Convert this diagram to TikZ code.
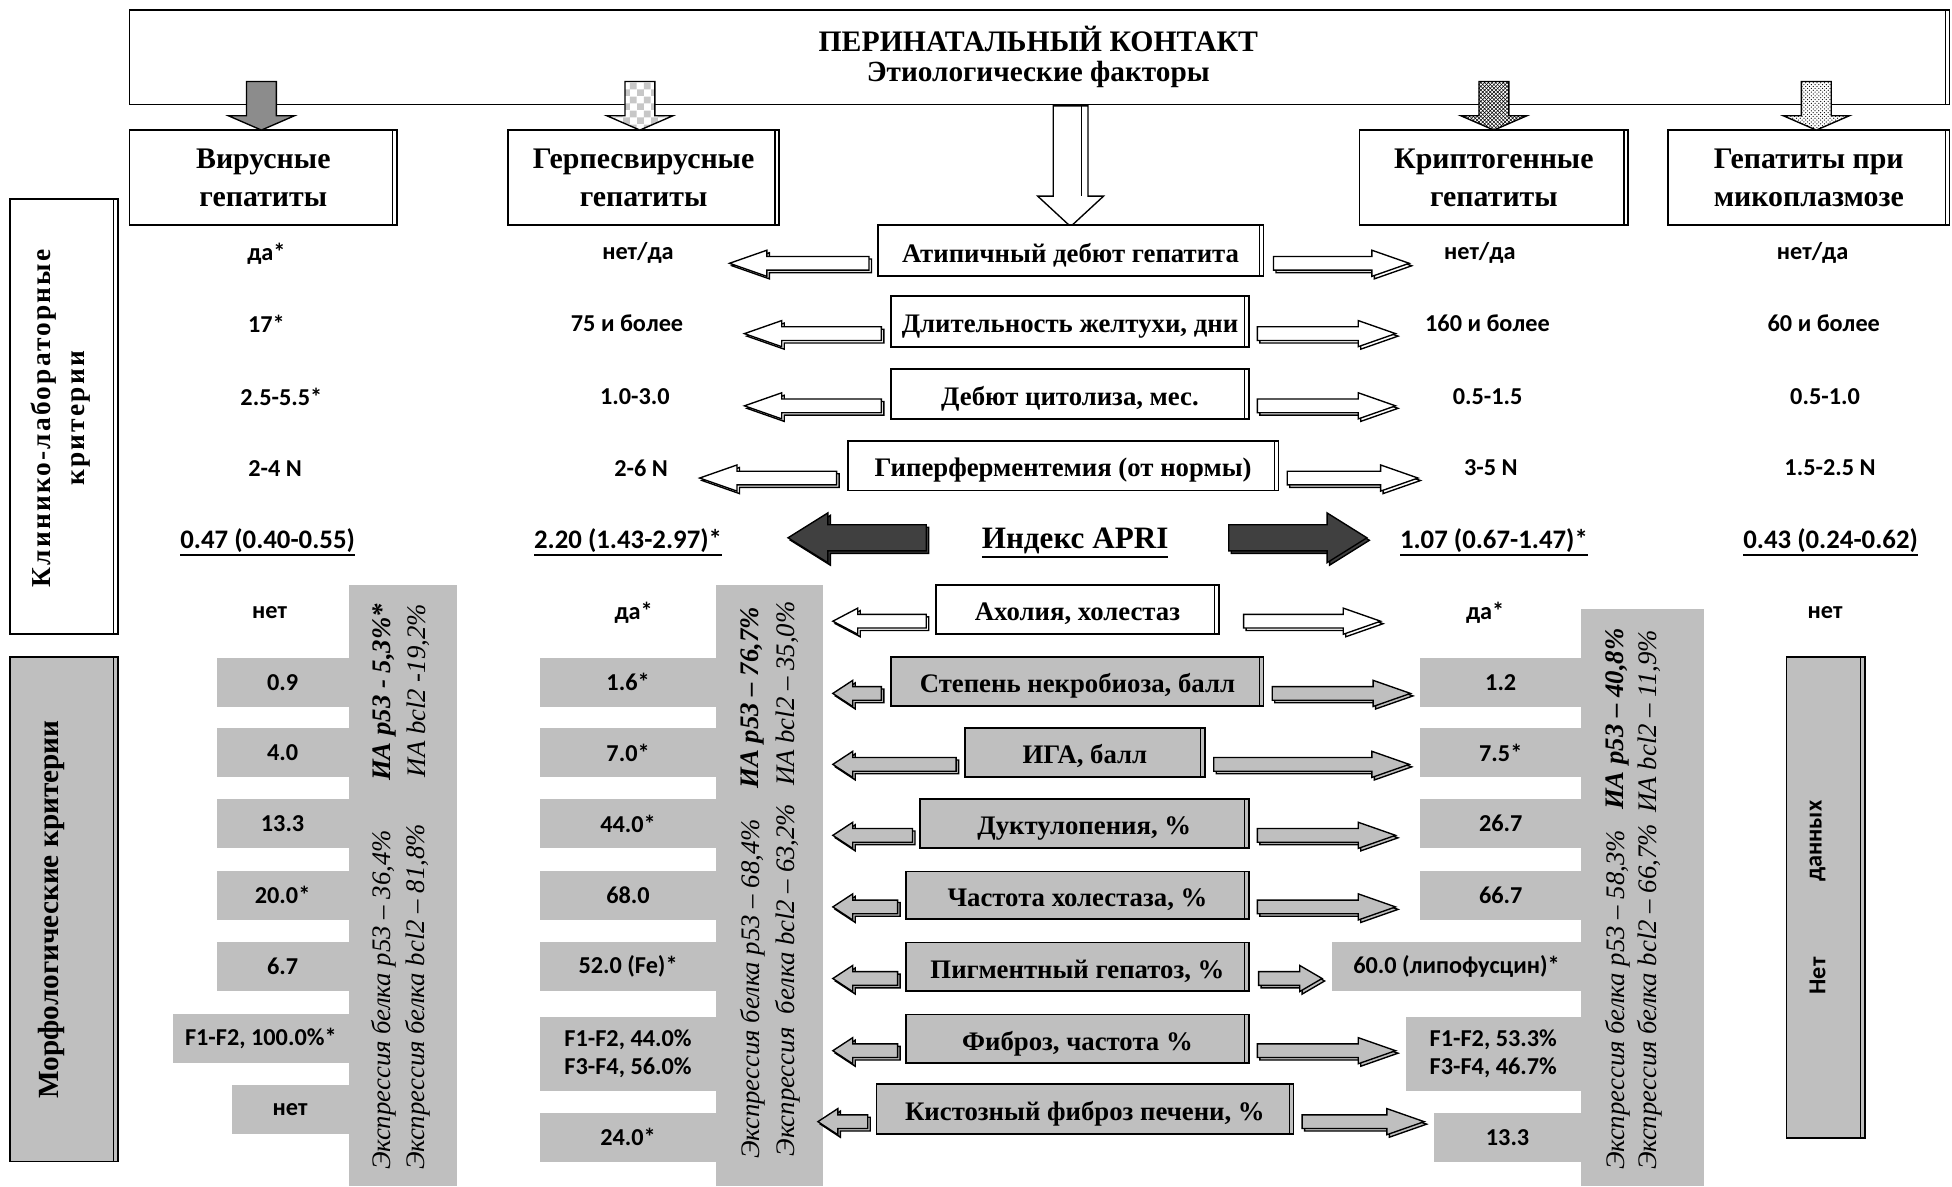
\documentclass[tikz,border=0pt]{standalone}
\usepackage{fontspec}
\setmainfont{Liberation Serif}
\newfontfamily\calfont{Carlito}
\newfontfamily\widefont[LetterSpace=8]{Liberation Serif}
\usetikzlibrary{patterns}

% thick underline
\newcommand\ulbar[1]{\leavevmode\vtop{\hbox{#1}\kern1.2pt\hrule height 1.6pt}}
% block arrow: style, tail x, tip x, y, head length, shaft half, head half
\newcommand\blockarr[7]{%
  \draw[#1,shift={(2,2)}] (#2,{#4-#6}) -- ({#3-(#5)},{#4-#6}) -- ({#3-(#5)},{#4-#7}) -- (#3,#4)
    -- ({#3-(#5)},{#4+#7}) -- ({#3-(#5)},{#4+#6}) -- (#2,{#4+#6}) -- cycle;
  \draw[#1] (#2,{#4-#6}) -- ({#3-(#5)},{#4-#6}) -- ({#3-(#5)},{#4-#7}) -- (#3,#4)
    -- ({#3-(#5)},{#4+#7}) -- ({#3-(#5)},{#4+#6}) -- (#2,{#4+#6}) -- cycle;}

\begin{document}
\begin{tikzpicture}[x=1pt,y=-1pt,
  box/.style={draw, line width=1.4pt, fill=white, inner sep=0pt,
    path picture={\draw[line width=0.9pt] ([xshift=-3.5pt]path picture bounding box.north east)
      -- ([xshift=-3.5pt]path picture bounding box.south east);}},
  gbox/.style={box, fill=black!25},
  lbl/.style={font=\bfseries\fontsize{21.5}{24}\selectfont, text height=18.2pt, text depth=0pt},
  cat/.style={font=\bfseries\fontsize{24}{31}\selectfont, align=center},
  num/.style={font=\calfont\bfseries\fontsize{19.5}{23}\selectfont, inner sep=0pt, align=center},
  apv/.style={num, font=\calfont\bfseries\fontsize{21.5}{25}\selectfont},
  cell/.style={num, fill=black!25},
  rot/.style={rotate=90, inner sep=0pt, font=\itshape\fontsize{21.5}{24}\selectfont},
  warr/.style={draw, line width=1.1pt, fill=white},
  garr/.style={warr, fill=black!25},
  barr/.style={warr, fill=black!75},
  darr/.style={draw, line width=1.1pt}]
\useasboundingbox (0,0) rectangle (1568,953);

% top
\node[box, minimum width=1462pt, minimum height=76pt] (top) at (835,46) {};
\node[font=\bfseries\fontsize{23.9}{27}\selectfont] (ttl) at (834,31) {ПЕРИНАТАЛЬНЫЙ КОНТАКТ};
\node[font=\bfseries\fontsize{23.5}{27}\selectfont] (sub) at (834,60) {Этиологические факторы};

% etiology
\node[box, cat, minimum width=215pt, minimum height=76.5pt] (vir) at (211.5,142.75) {Вирусные\\гепатиты};
\node[box, cat, minimum width=218pt, minimum height=76.5pt] (herp) at (517,142.75) {Герпесвирусные\\гепатиты};
\node[box, cat, minimum width=216pt, minimum height=76.5pt] (crypt) at (1200,142.75) {Криптогенные\\гепатиты};
\node[box, cat, minimum width=226pt, minimum height=76.5pt] (myco) at (1453,142.75) {Гепатиты при\\микоплазмозе};

\draw[darr, fill=black!45] (198,65.5) -- (222,65.5) -- (222,93) -- (236.5,93) -- (210,104.5) -- (183.5,93) -- (198,93) -- cycle;
\draw[darr, preaction={fill=white}, pattern=checkerboard, pattern color=black!22] (502,65.5) -- (526,65.5) -- (526,93) -- (540.5,93) -- (514,104.5) -- (487.5,93) -- (502,93) -- cycle;
\draw[darr, preaction={fill=white}, pattern=crosshatch] (1188,65.5) -- (1212,65.5) -- (1212,93) -- (1226.5,93) -- (1200,104.5) -- (1173.5,93) -- (1188,93) -- cycle;
\draw[darr, preaction={fill=white}, pattern=crosshatch dots] (1447,65.5) -- (1471,65.5) -- (1471,93) -- (1485.5,93) -- (1459,104.5) -- (1432.5,93) -- (1447,93) -- cycle;
\draw[darr, fill=white] (846,85) -- (874,85) -- (874,157.5) -- (886.5,157.5) -- (860,182) -- (833.5,157.5) -- (846,157.5) -- cycle;
\draw[line width=0.9pt] (869,85) -- (869,157.5);

% side labels
\node[box, minimum width=87pt, minimum height=349pt] (clinbox) at (51.5,334.5) {};
\node[rotate=90, align=center, font=\widefont\bfseries\fontsize{22}{27}\selectfont] (clin) at (48.5,336) {Клинико-лабораторные\\критерии};
\node[gbox, minimum width=87pt, minimum height=405pt] (morphbox) at (51.5,730.5) {};
\node[rotate=90, font=\bfseries\fontsize{23.5}{27}\selectfont] (morph) at (41,730.5) {Морфологические критерии};

% clinical rows
\node[box, lbl, minimum width=310pt, minimum height=41pt] (r1) at (860,201.5) {Атипичный дебют гепатита};
\node[box, lbl, minimum width=287pt, minimum height=40.5pt] (r2) at (859.5,258.3) {Длительность желтухи, дни};
\node[box, lbl, minimum width=287pt, minimum height=40pt] (r3) at (859.5,316.6) {Дебют цитолиза, мес.};
\node[box, lbl, minimum width=346pt, minimum height=40pt] (r4) at (854,374) {Гиперферментемия (от нормы)};
\node[font=\bfseries\fontsize{25}{28}\selectfont] (apri) at (863.6,436) {\ulbar{Индекс APRI}};
\node[box, lbl, minimum width=227pt, minimum height=39pt] (r6) at (865.5,489.5) {Ахолия, холестаз};

\blockarr{warr}{698}{586}{211.5}{-30}{5.5}{10.5}
\blockarr{warr}{1023}{1132}{211.5}{30}{5.5}{10.5}
\blockarr{warr}{708}{598}{268}{-30}{5.5}{10.5}
\blockarr{warr}{1010}{1121}{268}{30}{5.5}{10.5}
\blockarr{warr}{708}{598}{326}{-30}{5.5}{10.5}
\blockarr{warr}{1010}{1121}{326}{30}{5.5}{10.5}
\blockarr{warr}{672}{562}{384}{-30}{5.5}{10.5}
\blockarr{warr}{1034}{1139}{384}{30}{5.5}{10.5}
\blockarr{barr}{744}{633}{432}{-32}{10.5}{20}
\blockarr{barr}{987}{1098}{432}{32}{10.5}{20}
\blockarr{warr}{744}{669}{499}{-20}{5.5}{10.5}
\blockarr{warr}{999}{1109}{499}{30}{5.5}{10.5}

\node[num] (a1) at (214,203.5) {да*};
\node[num] (b1) at (512.5,203.5) {нет/да};
\node[num] (c1) at (1188.7,203.5) {нет/да};
\node[num] (d1) at (1456,203.5) {нет/да};
\node[num] (a2) at (214,260) {17*};
\node[num] (b2) at (503.7,260) {75 и более};
\node[num] (c2) at (1194.8,260) {160 и более};
\node[num] (d2) at (1465,260) {60 и более};
\node[num] (a3) at (226,318.5) {2.5-5.5*};
\node[num] (b3) at (510,318.5) {1.0-3.0};
\node[num] (c3) at (1195,318.5) {0.5-1.5};
\node[num] (d3) at (1466,318.5) {0.5-1.0};
\node[num] (a4) at (221,376) {2-4 N};
\node[num] (b4) at (515,376) {2-6 N};
\node[num] (c4) at (1197.6,376) {3-5 N};
\node[num] (d4) at (1470,376) {1.5-2.5 N};
\node[apv] (a5) at (215,436) {\ulbar{0.47 (0.40-0.55)}};
\node[apv] (b5) at (504.5,436) {\ulbar{2.20 (1.43-2.97)*}};
\node[apv] (c5) at (1200,436) {\ulbar{1.07 (0.67-1.47)*}};
\node[apv] (d5) at (1470.5,436) {\ulbar{0.43 (0.24-0.62)}};
\node[num] (a6) at (216.6,492) {нет};
\node[num] (b6) at (509,492) {да*};
\node[num] (c6) at (1193,492) {да*};
\node[num] (d6) at (1466,492) {нет};

% morphology
\fill[black!25] (280,470) rectangle (367,953);
\fill[black!25] (575,470) rectangle (661,953);
\fill[black!25] (1270,489) rectangle (1369,953);

\node[gbox, lbl, minimum width=299pt, minimum height=39pt] (r7) at (865.5,547.5) {Степень некробиоза, балл};
\node[gbox, lbl, minimum width=193pt, minimum height=39pt] (r8) at (871.5,604.5) {ИГА, балл};
\node[gbox, lbl, minimum width=264pt, minimum height=39pt] (r9) at (871,661.5) {Дуктулопения, \%};
\node[gbox, lbl, minimum width=275pt, minimum height=38pt] (r10) at (865.5,719) {Частота холестаза, \%};
\node[gbox, lbl, minimum width=275pt, minimum height=39pt] (r11) at (865.5,776.5) {Пигментный гепатоз, \%};
\node[gbox, lbl, minimum width=275pt, minimum height=39pt] (r12) at (865.5,834.5) {Фиброз, частота \%};
\node[gbox, lbl, minimum width=335pt, minimum height=40pt] (r13) at (871.5,891) {Кистозный фиброз печени, \%};

\blockarr{garr}{708}{669}{557}{-16}{5.5}{10.5}
\blockarr{garr}{1022}{1133}{557}{30}{5.5}{10.5}
\blockarr{garr}{768}{669}{614}{-16}{5.5}{10.5}
\blockarr{garr}{975}{1132}{614}{30}{5.5}{10.5}
\blockarr{garr}{733}{669}{671}{-16}{5.5}{10.5}
\blockarr{garr}{1010}{1121}{671}{30}{5.5}{10.5}
\blockarr{garr}{721}{669}{728.5}{-16}{5.5}{10.5}
\blockarr{garr}{1010}{1121}{728.5}{30}{5.5}{10.5}
\blockarr{garr}{721}{669}{786}{-16}{5.5}{10.5}
\blockarr{garr}{1011}{1062}{786}{18}{5.5}{10.5}
\blockarr{garr}{721}{669}{844}{-16}{5.5}{10.5}
\blockarr{garr}{1010}{1121}{844}{30}{5.5}{10.5}
\blockarr{garr}{697}{657}{901}{-16}{5.5}{10.5}
\blockarr{garr}{1046}{1144}{901}{30}{5.5}{10.5}

\node[cell, minimum width=106pt, minimum height=39.5pt] (a7) at (227,548) {0.9};
\node[cell, minimum width=106pt, minimum height=39.5pt] (a8) at (227,604.5) {4.0};
\node[cell, minimum width=106pt, minimum height=39.5pt] (a9) at (227,661.5) {13.3};
\node[cell, minimum width=106pt, minimum height=39.5pt] (a10) at (227,719) {20.0*};
\node[cell, minimum width=106pt, minimum height=39.5pt] (a11) at (227,776.5) {6.7};
\node[cell, minimum width=141pt, minimum height=39.5pt] (a12) at (209.5,834.5) {F1-F2, 100.0\%*};
\node[cell, minimum width=94pt, minimum height=39.5pt] (a13) at (233,891) {нет};

\node[cell, minimum width=141pt, minimum height=39.5pt] (b7) at (504.5,548) {1.6*};
\node[cell, minimum width=141pt, minimum height=39.5pt] (b8) at (504.5,604.5) {7.0*};
\node[cell, minimum width=141pt, minimum height=39.5pt] (b9) at (504.5,661.5) {44.0*};
\node[cell, minimum width=141pt, minimum height=39.5pt] (b10) at (504.5,719) {68.0};
\node[cell, minimum width=141pt, minimum height=39.5pt] (b11) at (504.5,776.5) {52.0 (Fe)*};
\node[cell, minimum width=141pt, minimum height=59pt] (b12) at (504.5,846.5) {F1-F2, 44.0\%\\F3-F4, 56.0\%};
\node[cell, minimum width=141pt, minimum height=39pt] (b13) at (504.5,913.5) {24.0*};

\node[cell, minimum width=129pt, minimum height=39.5pt] (c7) at (1205.5,548) {1.2};
\node[cell, minimum width=129pt, minimum height=39.5pt] (c8) at (1205.5,604.5) {7.5*};
\node[cell, minimum width=129pt, minimum height=39.5pt] (c9) at (1205.5,661.5) {26.7};
\node[cell, minimum width=129pt, minimum height=39.5pt] (c10) at (1205.5,719) {66.7};
\node[cell, minimum width=200pt, minimum height=39.5pt] (c11) at (1170,776.5) {60.0 (липофусцин)*};
\node[cell, minimum width=141pt, minimum height=59pt] (c12) at (1199.5,846.5) {F1-F2, 53.3\%\\F3-F4, 46.7\%};
\node[cell, minimum width=118pt, minimum height=39pt] (c13) at (1211,913.5) {13.3};

\node[gbox, minimum width=63pt, minimum height=386pt] (nodata) at (1466.5,721) {};
\node[num, rotate=90, anchor=west] (nd1) at (1460,799) {Нет};
\node[num, rotate=90, anchor=east] (nd2) at (1460,643) {данных};

% expression
\node[rot, anchor=west] (e1) at (308.6,940) {Экспрессия белка p53 – 36,4\%};
\node[rot, anchor=east] (f1) at (308.6,485) {\textbf{ИА p53 - 5,3\%*}};
\node[rot, anchor=west] (e2) at (335.7,940) {Экспрессия белка bcl2 – 81,8\%};
\node[rot, anchor=east] (f2) at (335.7,485) {ИА bcl2 -19,2\%};
\node[rot, anchor=west] (e3) at (604.5,931) {Экспрессия белка p53 – 68,4\%};
\node[rot, anchor=east] (f3) at (604.5,487.5) {\textbf{ИА p53 – 76,7\%}};
\node[rot, anchor=west] (e4) at (632.5,929) {Экспрессия\ \ белка bcl2 – 63,2\%};
\node[rot, anchor=east] (f4) at (632.5,483) {ИА bcl2 – 35,0\%};
\node[rot, anchor=west] (e5) at (1299.6,940) {Экспрессия белка p53 – 58,3\%};
\node[rot, anchor=east] (f5) at (1299.6,504.6) {\textbf{ИА p53 – 40,8\%}};
\node[rot, anchor=west] (e6) at (1325,940) {Экспрессия белка bcl2 – 66,7\%};
\node[rot, anchor=east] (f6) at (1325,506) {ИА bcl2 – 11,9\%};
\end{tikzpicture}
\end{document}
